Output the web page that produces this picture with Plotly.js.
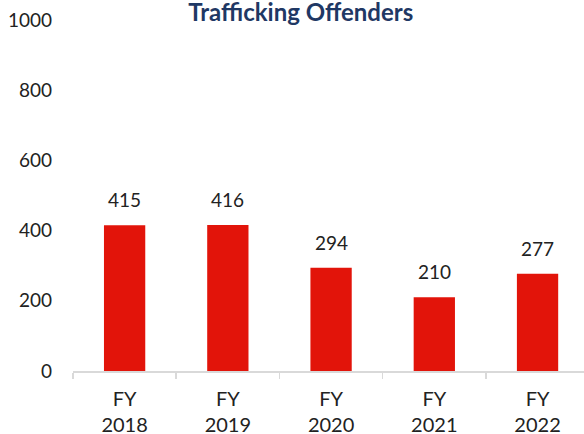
<!DOCTYPE html>
<html>
<head>
<meta charset="utf-8">
<script src="https://cdn.plot.ly/plotly-3.0.1.min.js"></script>
<style>html,body{margin:0;padding:0;background:#fff;}#chart{width:584px;height:434px;}</style>
</head>
<body>
<div id="chart"></div>
<script>
const categories = ["FY<br>2018", "FY<br>2019", "FY<br>2020", "FY<br>2021", "FY<br>2022"];
const offenders = [415, 416, 294, 210, 277];
const yTicks = [0, 200, 400, 600, 800, 1000];
const titleText = "Trafficking Offenders";

const FONT = "Lato, 'Open Sans', sans-serif";

const trace = {
  type: "bar",
  x: categories,
  y: offenders,
  marker: {color: "#E2140A"},
  width: 0.4,
  hoverinfo: "none"
};

const annotations = categories.map((c, i) => ({
  x: c, y: offenders[i], xref: "x", yref: "y",
  text: String(offenders[i]), showarrow: false,
  yanchor: "bottom", yshift: 12,
  font: {family: FONT, size: 19, color: "#222"}
}));

const layout = {
  width: 584, height: 434,
  margin: {l: 73, r: 0, t: 20, b: 63},
  paper_bgcolor: "#fff", plot_bgcolor: "#fff",
  showlegend: false,
  title: {
    text: "<b>" + titleText + "</b>",
    x: 0.515, xref: "container", xanchor: "center",
    y: 0.972, yref: "container", yanchor: "middle",
    font: {family: FONT, size: 24, color: "#1F3864"}
  },
  xaxis: {
    type: "category",
    range: [-0.5, 4.45],
    showline: true, linecolor: "#d9d9d9", linewidth: 1.5,
    ticks: "outside", tickson: "boundaries", ticklen: 6, tickcolor: "#d9d9d9", tickwidth: 1.5,
    showgrid: false, zeroline: false,
    ticklabelstandoff: 9,
    tickfont: {family: FONT, size: 20, color: "#222"}
  },
  yaxis: {
    range: [0, 1000],
    tickvals: yTicks,
    showgrid: false, zeroline: false, showline: false,
    ticks: "", ticklabelstandoff: 20,
    tickfont: {family: FONT, size: 19, color: "#222"}
  },
  annotations: annotations
};

Plotly.newPlot("chart", [trace], layout, {displayModeBar: false, staticPlot: true});
</script>
</body>
</html>
